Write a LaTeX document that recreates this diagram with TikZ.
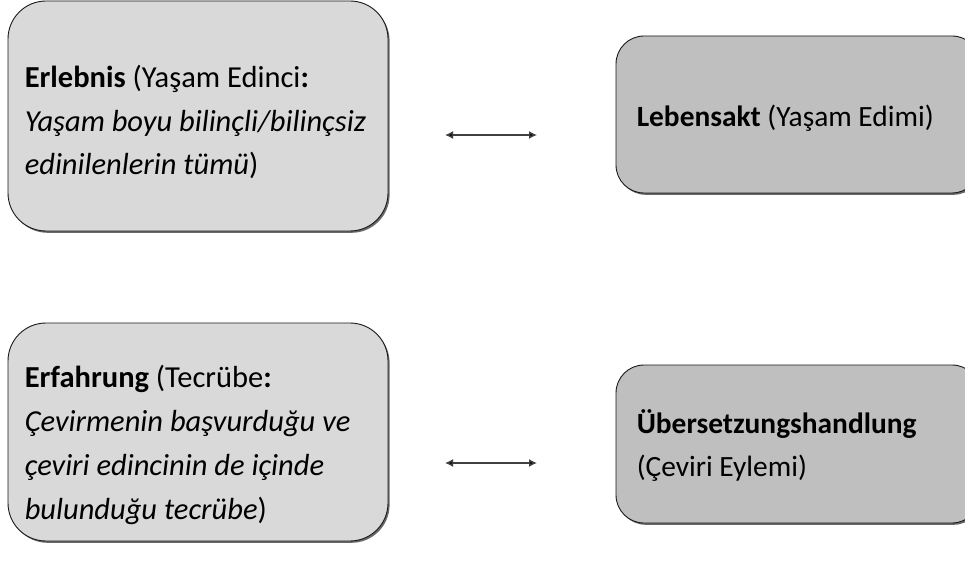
\documentclass[tikz,border=0pt]{standalone}
\usepackage{fontspec}
\setmainfont{Carlito}
\usetikzlibrary{arrows.meta,shadows}
\definecolor{boxlight}{HTML}{D9D9D9}
\definecolor{boxdark}{HTML}{BFBFBF}
\definecolor{edge}{HTML}{1A1A1A}
\definecolor{linkc}{HTML}{404040}
\tikzset{
  boxbase/.style={draw=edge, line width=0.9pt, inner sep=0pt,
    drop shadow={shadow xshift=1.6pt, shadow yshift=-1.8pt, fill=black!65, opacity=0.9}},
  lightbox/.style={boxbase, fill=boxlight, rounded corners=38pt},
  darkbox/.style={boxbase, fill=boxdark, rounded corners=28pt},
  txt/.style={align=left, inner sep=0pt, anchor=west},
  lefttxt/.style={txt, font=\fontsize{30.5}{43.7}\selectfont},
  righttxt/.style={txt, font=\fontsize{29.4}{43.2}\selectfont},
  link/.style={draw=linkc, line width=1.4pt, {Latex[length=8pt,width=8pt,fill=black]}-{Latex[length=8pt,width=8pt,fill=black]}}
}
\begin{document}
\begin{tikzpicture}[x=1pt,y=-1pt]
\useasboundingbox (0,0) rectangle (965,569);
% boxes
\node[lightbox, minimum width=380pt, minimum height=230pt] (b1) at (198,116) {};
\node[darkbox, minimum width=364pt, minimum height=157pt] (b2) at (798,114.5) {};
\node[lightbox, minimum width=380pt, minimum height=218pt] (b3) at (198,432) {};
\node[darkbox, minimum width=364pt, minimum height=158pt] (b4) at (798,444) {};
% texts
\node[lefttxt] (t1) at ([xshift=17pt,yshift=-6pt]b1.west) {\textbf{Erlebnis} (Yaşam Edinci\textbf{:}\\\textit{Yaşam boyu bilinçli/bilinçsiz}\\\textit{edinilenlerin tümü})};
\node[righttxt] (t2) at ([xshift=21pt,yshift=-4pt]b2.west) {\textbf{Lebensakt} (Yaşam Edimi)};
\node[lefttxt] (t3) at ([xshift=17pt,yshift=-13pt]b3.west) {\textbf{Erfahrung} (Tecrübe\textbf{:}\\\textit{Çevirmenin başvurduğu ve}\\\textit{çeviri edincinin de içinde}\\\textit{bulunduğu tecrübe})};
\node[righttxt] (t4) at ([xshift=21pt,yshift=-1.5pt]b4.west) {\textbf{Übersetzungshandlung}\\(Çeviri Eylemi)};
% connectors
\coordinate (a1l) at (445,135);
\coordinate (a1r) at (537,135);
\coordinate (a2l) at (445,463);
\coordinate (a2r) at (537,463);
\draw[link] (a1l) -- (a1r);
\draw[link] (a2l) -- (a2r);
\end{tikzpicture}
\end{document}
